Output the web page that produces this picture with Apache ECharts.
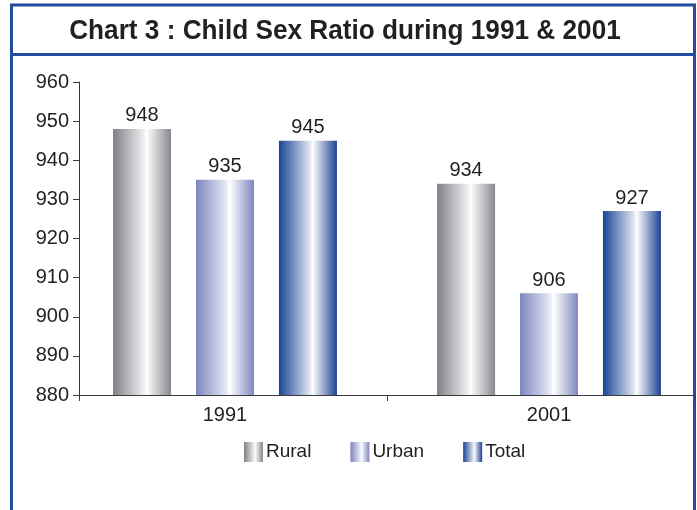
<!DOCTYPE html>
<html>
<head>
<meta charset="utf-8">
<script src="https://cdn.jsdelivr.net/npm/echarts@6/dist/echarts.min.js"></script>
<style>
  html, body { margin: 0; padding: 0; background: #ffffff; }
  #chart { width: 697px; height: 510px; }
</style>
</head>
<body>
<div id="chart"></div>
<script>
// Child sex ratio (girls per 1000 boys, age 0-6)
const years = ['1991', '2001'];
const rural = [948, 934];
const urban = [935, 906];
const total = [945, 927];
const seriesNames = ['Rural', 'Urban', 'Total'];
const yTicks = { min: 880, max: 960, step: 10 };

const FONT = '"Liberation Sans", Arial, Helvetica, sans-serif';
const INK = '#231f20';
const FRAME = '#1f4f9c';

// Cylinder-like shading: dark edge, bright stripe just right of centre, dark edge
function shade(edgeL, edgeR, mid) {
  return {
    type: 'linear', x: 0, y: 0, x2: 1, y2: 0,
    colorStops: [
      { offset: 0, color: edgeL },
      { offset: 0.53, color: mid },
      { offset: 0.58, color: '#ffffff' },
      { offset: 1, color: edgeR }
    ]
  };
}
const fills = [
  shade('#808186', '#86878c', '#eeeff0'),
  shade('#7c85bf', '#7f87bf', '#e9ebf5'),
  shade('#1a4595', '#1d4290', '#dfe3f0')
];

// bar groups sit at positions 0 and 1 on a hidden linear axis whose range
// pushes the two groups slightly apart from the category centres
const groupPos = years.map((_, i) => i);
const barRange = { min: -0.4506, max: 1.4506 };

const chart = echarts.init(document.getElementById('chart'), null, { renderer: 'canvas' });

const option = {
  backgroundColor: '#ffffff',
  animation: false,
  textStyle: { fontFamily: FONT, color: INK },
  grid: { left: 79, right: 2, top: 82, bottom: 115, containLabel: false },
  xAxis: [
    {
      // category frame: axis line and the ticks between the two years
      type: 'category', data: years, position: 'bottom',
      axisLine: { onZero: false, lineStyle: { color: '#3a3a3c', width: 1 } },
      axisTick: { show: true, length: 6, lineStyle: { color: '#3a3a3c' } },
      axisLabel: { show: false }
    },
    {
      // year labels centred under each bar group
      type: 'value', position: 'bottom',
      min: barRange.min, max: barRange.max, splitLine: { show: false },
      axisLine: { show: false, onZero: false }, axisTick: { show: false },
      axisLabel: {
        show: true, customValues: groupPos,
        formatter: (v) => years[Math.round(v)],
        color: INK, fontSize: 20, fontFamily: FONT, margin: 10
      }
    }
  ],
  yAxis: {
    type: 'value',
    min: yTicks.min, max: yTicks.max, interval: yTicks.step,
    splitLine: { show: false },
    axisLine: { show: true, onZero: false, lineStyle: { color: '#3a3a3c', width: 1 } },
    axisTick: { show: true, length: 6, lineStyle: { color: '#3a3a3c' } },
    axisLabel: { color: INK, fontSize: 20, fontFamily: FONT, margin: 10 }
  },
  legend: {
    data: seriesNames,
    top: 437, left: 239,
    itemWidth: 19, itemHeight: 20, itemGap: 39,
    icon: 'rect',
    textStyle: { fontSize: 19, color: INK, fontFamily: FONT, padding: [0, 0, 0, -2] }
  },
  series: [rural, urban, total].map((vals, i) => ({
    name: seriesNames[i],
    type: 'bar',
    xAxisIndex: 1,
    data: vals.map((v, k) => [groupPos[k], v]),
    barWidth: 58,
    barGap: '43%',
    itemStyle: { color: fills[i] },
    label: {
      show: true, position: 'top', distance: 3,
      color: INK, fontSize: 20, fontFamily: FONT,
      formatter: (p) => String(p.value[1])
    }
  })),
  graphic: [
    {
      type: 'rect', silent: true,
      shape: { x: 11.5, y: 5, width: 683, height: 600 },
      style: { fill: null, stroke: FRAME, lineWidth: 3 }
    },
    {
      type: 'line', silent: true,
      shape: { x1: 11.5, y1: 54.5, x2: 694.5, y2: 54.5 },
      style: { stroke: FRAME, lineWidth: 3 }
    },
    {
      type: 'text', silent: true,
      x: 345, y: 32, scaleX: 0.97,
      style: {
        text: 'Chart 3 : Child Sex Ratio during 1991 & 2001',
        fontFamily: FONT, fontWeight: 'bold', fontSize: 27,
        fill: INK, align: 'center', verticalAlign: 'middle'
      }
    }
  ]
};

chart.setOption(option);
</script>
</body>
</html>
